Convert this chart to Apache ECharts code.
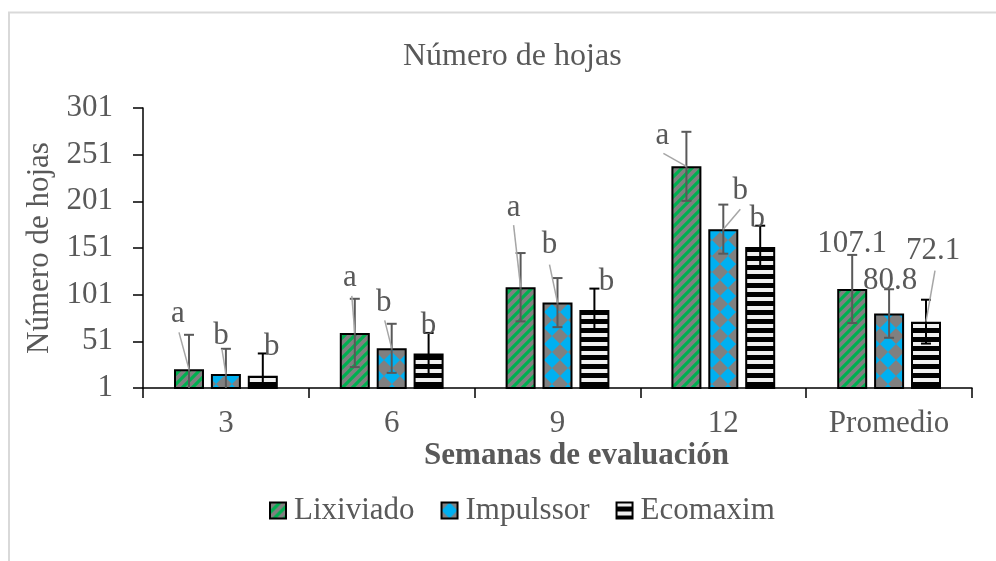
<!DOCTYPE html>
<html>
<head>
<meta charset="utf-8">
<script src="https://cdn.jsdelivr.net/npm/echarts@6/dist/echarts.min.js"></script>
<style>
html,body{margin:0;padding:0;background:#fff;}
#chart{width:996px;height:561px;}
</style>
</head>
<body>
<div id="chart"></div>
<script>
// ---- data ----
const categories = ['3', '6', '9', '12', 'Promedio'];
const seriesNames = ['Lixiviado', 'Impulssor', 'Ecomaxim'];
const lixiviado = [21, 60, 109, 238.5, 107.1];
const impulssor = [16, 43.5, 92.5, 171.2, 80.8];
const ecomaxim = [14, 38, 84.5, 152, 72.1];
const errLixiviado = [37, 36.6, 36.6, 37, 36.5];
const errImpulssor = [27, 26.3, 26.3, 26.3, 26];
const errEcomaxim = [24, 22, 23, 22.9, 23.5];
const lettersLixiviado = ['a', 'a', 'a', 'a', '107.1'];
const lettersImpulssor = ['b', 'b', 'b', 'b', '80.8'];
const lettersEcomaxim = ['b', 'b', 'b', 'b', '72.1'];
const yTicks = [1, 51, 101, 151, 201, 251, 301];

// ---- label placement (pixel offsets from bar top centre) ----
const labelOffsets = [
  [[-11, -55], [-5, -55], [-7, -79], [-24, -30], [0, -45]],
  [[-5, -38], [-8, -45], [-8, -58], [17, -38], [1, -33]],
  [[9, -29], [0, -28], [12, -28], [-3, -28], [7, -71]]
];
const leaderStarts = [
  [[-10, -37], [-3, -37], [-7, -62], [-23, -13], null],
  [[-4, -25], [-7, -28], [-8, -38], [17, -20], null],
  [null, null, null, null, [9, -51]]
];

const FONT = "'Liberation Serif', 'Times New Roman', serif";
const TXT = '#595959';
const FS = 31;

function makePattern(kind) {
  const c = document.createElement('canvas');
  let ctx;
  if (kind === 0) {
    c.width = 10; c.height = 10; ctx = c.getContext('2d');
    ctx.fillStyle = '#808080'; ctx.fillRect(0, 0, 10, 10);
    ctx.strokeStyle = '#00B050'; ctx.lineWidth = 3.2;
    ctx.beginPath();
    ctx.moveTo(-2, 12); ctx.lineTo(12, -2);
    ctx.moveTo(-7, 7); ctx.lineTo(7, -7);
    ctx.moveTo(3, 17); ctx.lineTo(17, 3);
    ctx.stroke();
  } else if (kind === 1) {
    c.width = 16; c.height = 16; ctx = c.getContext('2d');
    ctx.fillStyle = '#808080'; ctx.fillRect(0, 0, 16, 16);
    ctx.fillStyle = '#00B0F0';
    ctx.beginPath();
    ctx.moveTo(8, 0); ctx.lineTo(16, 8); ctx.lineTo(8, 16); ctx.lineTo(0, 8); ctx.closePath();
    ctx.fill();
  } else {
    c.width = 9; c.height = 9; ctx = c.getContext('2d');
    ctx.fillStyle = '#F0F0F0'; ctx.fillRect(0, 0, 9, 9);
    ctx.fillStyle = '#000000'; ctx.fillRect(0, 4, 9, 5);
  }
  return { image: c, repeat: 'repeat' };
}

const values = [lixiviado, impulssor, ecomaxim];
const errors = [errLixiviado, errImpulssor, errEcomaxim];
const letters = [lettersLixiviado, lettersImpulssor, lettersEcomaxim];
const errColors = ['#595959', '#595959', '#000000'];
const BAR_W = 30, BAR_GAP = 0.23;
const pitch = BAR_W * (1 + BAR_GAP);

const series = [];
seriesNames.forEach((name, s) => {
  series.push({
    name: name,
    type: 'bar',
    barWidth: BAR_W,
    barGap: (BAR_GAP * 100) + '%',
    data: values[s],
    itemStyle: { color: makePattern(s), borderColor: '#000', borderWidth: 2 },
    z: 2
  });
});
seriesNames.forEach((name, s) => {
  series.push({
    name: 'err_' + name,
    type: 'custom',
    z: 5,
    data: categories.map((c, i) => [i, values[s][i], errors[s][i]]),
    renderItem: function (params, api) {
      const i = api.value(0), v = api.value(1), e = api.value(2);
      const idx = params.dataIndex;
      const base = api.coord([i, v]);
      const x = base[0] + (s - 1) * pitch;
      const top = base[1];
      const yHi = api.coord([i, v + e])[1];
      const lowVal = Math.max(v - e, 1);
      const yLo = api.coord([i, lowVal])[1];
      const st = { stroke: errColors[s], lineWidth: 2 };
      const children = [
        { type: 'line', shape: { x1: x, y1: yHi, x2: x, y2: yLo }, style: st },
        { type: 'line', shape: { x1: x - 5, y1: yHi, x2: x + 5, y2: yHi }, style: st }
      ];
      if (v - e > 1) {
        children.push({ type: 'line', shape: { x1: x - 5, y1: yLo, x2: x + 5, y2: yLo }, style: st });
      }
      const ld = leaderStarts[s][idx];
      if (ld) {
        children.push({ type: 'line', shape: { x1: x + ld[0], y1: top + ld[1], x2: x, y2: top },
          style: { stroke: '#A6A6A6', lineWidth: 1.5 } });
      }
      const lo = labelOffsets[s][idx];
      children.push({ type: 'text', x: x + lo[0], y: top + lo[1],
        style: { text: letters[s][idx], fill: TXT, font: FS + 'px ' + FONT, align: 'center', verticalAlign: 'middle' } });
      return { type: 'group', children: children };
    }
  });
});

const chart = echarts.init(document.getElementById('chart'), null, { renderer: 'canvas' });
chart.setOption({
  animation: false,
  backgroundColor: '#fff',
  textStyle: { fontFamily: FONT },
  graphic: [{
    type: 'rect', shape: { x: 9, y: 12.5, width: 1000, height: 600 },
    style: { fill: 'none', stroke: '#D9D9D9', lineWidth: 2 }, z: -1
  }],
  title: {
    text: 'Número de hojas', left: 398, top: 36,
    textStyle: { fontFamily: FONT, fontSize: 32, fontWeight: 'normal', color: TXT }
  },
  legend: {
    data: seriesNames, left: 264, top: 490,
    itemWidth: 16, itemHeight: 16, itemGap: 26, icon: 'rect',
    itemStyle: { borderColor: '#000', borderWidth: 2 },
    textStyle: { fontFamily: FONT, fontSize: FS, color: TXT, padding: [0, 0, 0, 3] }
  },
  grid: { left: 143, right: 24, top: 108, bottom: 173 },
  xAxis: {
    type: 'category', data: categories,
    axisLine: { lineStyle: { color: '#000', width: 1.5 } },
    axisTick: { show: true, length: 10, alignWithLabel: false, lineStyle: { color: '#000', width: 1.5 } },
    axisLabel: { color: TXT, fontSize: FS, fontFamily: FONT, margin: 20 },
    name: 'Semanas de evaluación', nameLocation: 'middle', nameGap: 52,
    nameTextStyle: { color: TXT, fontSize: FS, fontWeight: 'bold', fontFamily: FONT, padding: [0, 0, 0, 38] }
  },
  yAxis: {
    type: 'value', min: 1, max: 301,
    splitLine: { show: false },
    axisLine: { show: true, lineStyle: { color: '#000', width: 1.5 } },
    axisTick: { show: true, length: 10, customValues: yTicks, lineStyle: { color: '#000', width: 1.5 } },
    axisLabel: { color: TXT, fontSize: FS, fontFamily: FONT, margin: 30, customValues: yTicks },
    name: 'Número de hojas', nameLocation: 'middle', nameGap: 86,
    nameTextStyle: { color: TXT, fontSize: FS, fontFamily: FONT }
  },
  series: series
});
</script>
</body>
</html>
